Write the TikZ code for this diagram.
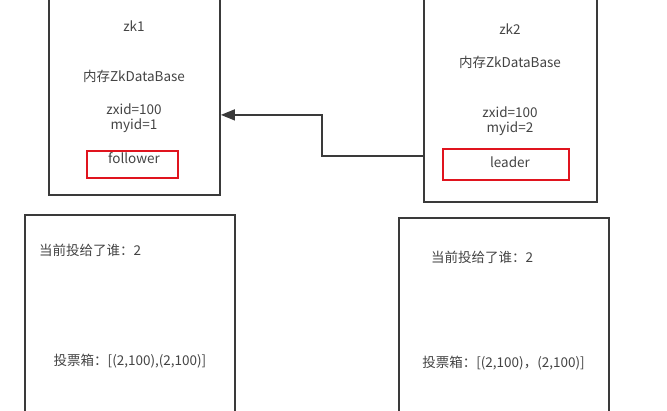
\documentclass[tikz,border=0pt]{standalone}
\usepackage{fontspec}
\setmainfont{Noto Sans CJK SC}
\usetikzlibrary{arrows.meta}
\definecolor{linegray}{HTML}{3A3A3A}
\definecolor{txtgray}{HTML}{444444}
\definecolor{redbox}{HTML}{E0141E}
\tikzset{
  box/.style={draw=linegray, line width=1.8pt, rectangle, inner sep=0pt},
  redrect/.style={draw=redbox, line width=1.4pt, rectangle, inner sep=0pt},
  txt/.style={text=txtgray, font=\fontsize{13.5}{15}\selectfont, inner sep=0pt},
  conn/.style={draw=linegray, line width=1.4pt, -{Triangle[length=14pt,width=11pt]}}
}
\begin{document}
\begin{tikzpicture}[x=1pt,y=-1pt]
\useasboundingbox (0,0) rectangle (667,410);
\fill[white] (0,0) rectangle (667,410);
\clip (0,0) rectangle (667,410);
% main boxes
\node[box, minimum width=171pt, minimum height=210pt] (zk1box) at (134.5,90) {};
\node[box, minimum width=173pt, minimum height=217pt] (zk2box) at (510.5,93.5) {};
\node[box, minimum width=210pt, minimum height=210pt] (v1box) at (130,320) {};
\node[box, minimum width=210pt, minimum height=210pt] (v2box) at (504,323) {};
% red boxes
\node[redrect, minimum width=91pt, minimum height=27pt] (r1) at (132.5,164.5) {};
\node[redrect, minimum width=126pt, minimum height=31pt] (r2) at (506,164.5) {};
% texts zk1
\node[txt] (t1a) at (134,26) {zk1};
\node[txt] (t1b) at (134,76) {内存ZkDataBase};
\node[txt] (t1c) at (134,109) {zxid=100};
\node[txt] (t1d) at (134,126) {myid=1};
\node[txt] (t1e) at (134,158) {follower};
% texts zk2
\node[txt] (t2a) at (510,29) {zk2};
\node[txt] (t2b) at (510,62) {内存ZkDataBase};
\node[txt] (t2c) at (510,112) {zxid=100};
\node[txt] (t2d) at (510,129) {myid=2};
\node[txt] (t2e) at (510,162) {leader};
% vote texts
\node[txt, anchor=west] (v1a) at (39,250) {当前投给了谁：2};
\node[txt] (v1b) at (130,361) {投票箱：[(2,100),(2,100)]};
\node[txt, anchor=west] (v2a) at (431,257) {当前投给了谁：2};
\node[txt] (v2b) at (503.5,363) {投票箱：[(2,100)，(2,100)]};
% connector
\coordinate (bend) at (322,134);
\draw[conn] ([yshift=47pt]zk2box.south west) -| (bend) |- ([yshift=81pt]zk1box.south east);
\end{tikzpicture}
\end{document}
